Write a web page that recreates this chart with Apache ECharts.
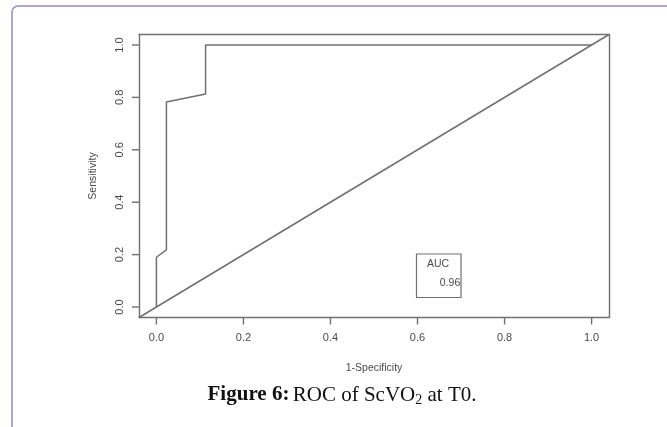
<!DOCTYPE html>
<html>
<head>
<meta charset="utf-8">
<script src="https://cdn.jsdelivr.net/npm/echarts@6/dist/echarts.min.js"></script>
<style>
  html, body { margin: 0; padding: 0; background: #fff; }
  #chart { width: 667px; height: 427px; }
</style>
</head>
<body>
<div id="chart"></div>
<script>
// ROC curve
const fpr = [0, 0, 0.023, 0.023, 0.113, 0.113, 1.0];
const tpr = [0, 0.19, 0.218, 0.782, 0.813, 1.0, 1.0];
// reference line (abline 0,1) across the whole plot region
const diagX = [-0.04, 1.04];
const diagY = [-0.04, 1.04];
const ticks = [0, 0.2, 0.4, 0.6, 0.8, 1.0];
const aucText = "0.96";

const axisMin = -0.04;
const axisMax = 1.04;
const tickLen = 7;
const lineColor = "#707070";
const textColor = "#4a4a4a";

let chart = echarts.init(document.getElementById("chart"));

function mainAxis(name, pos, extra) {
  return Object.assign({
    type: "value",
    position: pos,
    min: axisMin,
    max: axisMax,
    name: name,
    nameLocation: "middle",
    nameTextStyle: { color: textColor, fontSize: 10.5, fontFamily: "Liberation Sans" },
    axisLine: { show: true, onZero: false, lineStyle: { color: lineColor, width: 1.4 } },
    splitLine: { show: false },
    axisTick: { show: false }
  }, extra);
}

// the other two sides of the box
function boxAxis(pos) {
  return {
    type: "value",
    position: pos,
    min: axisMin,
    max: axisMax,
    axisLine: { show: true, onZero: false, lineStyle: { color: lineColor, width: 1.4 } },
    axisTick: { show: false },
    axisLabel: { show: false },
    splitLine: { show: false }
  };
}

// outward tick marks, placed through the axis scales
function tickSeries(name, horizontal) {
  return {
    name: name,
    type: "custom",
    silent: true,
    clip: false,
    z: 10,
    data: ticks.map(t => horizontal ? [t, axisMin] : [axisMin, t]),
    renderItem: function (params, api) {
      let p = api.coord([api.value(0), api.value(1)]);
      let shape = horizontal
        ? { x1: p[0], y1: p[1], x2: p[0], y2: p[1] + tickLen }
        : { x1: p[0], y1: p[1], x2: p[0] - tickLen, y2: p[1] };
      return {
        type: "line",
        shape: shape,
        style: { stroke: lineColor, lineWidth: 1.4 }
      };
    }
  };
}

let option = {
  animation: false,
  grid: { left: 139, right: 58, top: 34.5, bottom: 109.5 },
  xAxis: [
    mainAxis("1-Specificity", "bottom", {
      nameGap: 45,
      axisLabel: {
        customValues: ticks,
        margin: 15,
        color: textColor,
        fontSize: 11,
        fontFamily: "Liberation Sans",
        formatter: v => v.toFixed(1)
      }
    }),
    boxAxis("top")
  ],
  yAxis: [
    mainAxis("Sensitivity", "left", {
      nameGap: 40,
      axisLabel: {
        customValues: ticks,
        rotate: 90,
        margin: 14,
        color: textColor,
        fontSize: 11,
        fontFamily: "Liberation Sans",
        formatter: v => v.toFixed(1)
      }
    }),
    boxAxis("right")
  ],
  series: [
    {
      name: "ROC",
      type: "line",
      data: fpr.map((x, i) => [x, tpr[i]]),
      symbol: "none",
      lineStyle: { color: lineColor, width: 1.5 }
    },
    {
      name: "ref",
      type: "line",
      data: diagX.map((x, i) => [x, diagY[i]]),
      symbol: "none",
      lineStyle: { color: lineColor, width: 1.5 }
    },
    tickSeries("xticks", true),
    tickSeries("yticks", false)
  ],
  graphic: [
    {
      // card frame, only top and left edges show
      type: "rect",
      shape: { x: 12, y: 6, width: 720, height: 520, r: 6 },
      style: { fill: "none", stroke: "#8f8dc2", lineWidth: 1.5 }
    },
    {
      type: "rect",
      shape: { x: 416.5, y: 254, width: 44.5, height: 43.5 },
      style: { fill: "#fff", stroke: lineColor, lineWidth: 1.2 }
    },
    {
      type: "text",
      x: 438,
      y: 264,
      style: {
        text: "AUC",
        fill: textColor,
        font: "10.5px Liberation Sans",
        textAlign: "center",
        textVerticalAlign: "middle"
      }
    },
    {
      type: "text",
      x: 450,
      y: 283,
      style: {
        text: aucText,
        fill: textColor,
        font: "10.5px Liberation Sans",
        textAlign: "center",
        textVerticalAlign: "middle"
      }
    },
    {
      type: "text",
      x: 342,
      y: 395,
      style: {
        text: "{b|Figure 6:} {n|ROC of ScVO}{s|2}{n| at T0.}",
        textAlign: "center",
        textVerticalAlign: "middle",
        fill: "#111",
        rich: {
          b: { fontFamily: "Liberation Serif", fontSize: 21, fontWeight: "bold", fill: "#111", lineHeight: 24 },
          n: { fontFamily: "Liberation Serif", fontSize: 21, fill: "#111", lineHeight: 24 },
          s: { fontFamily: "Liberation Serif", fontSize: 14, fill: "#111", lineHeight: 14, verticalAlign: "bottom" }
        }
      }
    }
  ]
};

chart.setOption(option);
</script>
</body>
</html>
